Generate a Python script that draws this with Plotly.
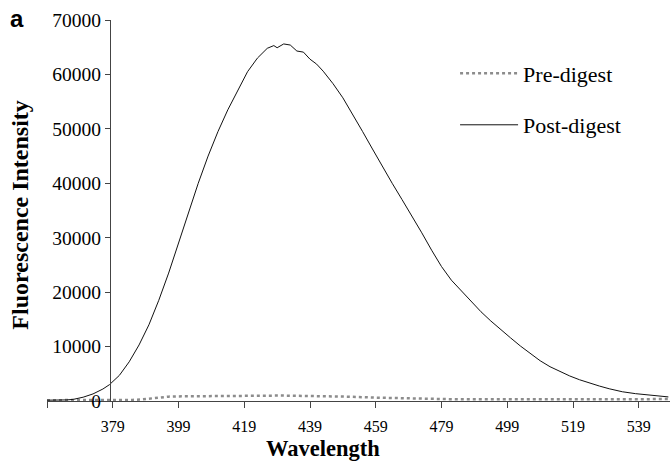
import plotly.graph_objects as go

# Post-digest spectrum
post_wl = [359, 362, 365, 367, 370, 373, 376, 378, 381, 384, 387, 390, 393, 396, 399, 402,
           405, 408, 411, 414, 417, 420, 423, 426, 428, 429, 431, 433, 435, 437, 439, 441,
           443, 446, 449, 452, 455, 458, 461, 464, 467, 470, 473, 476, 479, 482, 485, 488,
           491, 494, 497, 500, 503, 506, 509, 512, 515, 518, 521, 524, 527, 530, 534, 538,
           542, 545, 548]
post_val = [150, 150, 200, 300, 700, 1300, 2200, 3000, 4700, 7200, 10300, 14000, 18500, 23500, 29000, 34500,
            40000, 45000, 49500, 53500, 57000, 60500, 63000, 64800, 65300, 64900, 65600, 65400, 64300, 64100, 62800, 61900,
            60600, 58300, 55700, 52700, 49500, 46300, 43100, 40000, 37000, 34000, 30900, 27700, 24700, 22200, 20200, 18300,
            16400, 14700, 13100, 11600, 10100, 8700, 7400, 6300, 5400, 4600, 3900, 3300, 2750, 2250, 1700, 1350,
            1100, 900, 750]

# Pre-digest spectrum
pre_wl = [359, 365, 372, 380, 385, 388, 392, 396, 400, 410, 420, 430, 440, 450, 460, 470,
          480, 490, 500, 510, 520, 530, 540, 548]
pre_val = [150, 150, 150, 150, 200, 300, 600, 800, 850, 850, 950, 1000, 950, 800, 600, 450,
           350, 300, 300, 300, 350, 350, 350, 350]

tick_vals = [359, 379, 399, 419, 439, 459, 479, 499, 519, 539]
tick_text = ["", "379", "399", "419", "439", "459", "479", "499", "519", "539"]
y_ticks = [0, 10000, 20000, 30000, 40000, 50000, 60000, 70000]

serif = "Liberation Serif, Times New Roman, serif"

fig = go.Figure()
fig.add_trace(go.Scatter(x=pre_wl, y=pre_val, mode="lines", name="Pre-digest",
                         legendgroup="pre",
                         line=dict(color="#8c8c8c", width=2.5, dash="dot")))
fig.add_trace(go.Scatter(x=post_wl, y=post_val, mode="lines", name="Post-digest",
                         legendgroup="post",
                         line=dict(color="#111111", width=1)))

fig.update_layout(
    width=670, height=462,
    margin=dict(l=47, r=0, t=20, b=61),
    paper_bgcolor="white", plot_bgcolor="white",
    font=dict(family=serif, color="black", size=17),
    showlegend=True,
    legend=dict(x=0.655, y=0.915, xanchor="left", yanchor="top",
                font=dict(family=serif, size=22, color="black"),
                bgcolor="rgba(0,0,0,0)", itemwidth=58, tracegroupgap=20),
    xaxis=dict(range=[359, 548.5], tickmode="array", tickvals=tick_vals, ticktext=tick_text,
               ticks="outside", ticklen=6, tickcolor="#444", showline=True, linecolor="#444",
               linewidth=1, showgrid=False, zeroline=False, ticklabelstandoff=5,
               tickfont=dict(family=serif, size=16)),
    yaxis=dict(range=[0, 70000], tickvals=y_ticks, tickformat="d", ticks="outside", ticklen=5,
               tickcolor="#444", showline=True, linecolor="#444", linewidth=1,
               showgrid=False, zeroline=False, anchor="free", position=0.1011,
               tickfont=dict(family=serif, size=19.5)),
    annotations=[
        dict(text="<b>Wavelength</b>", xref="paper", yref="paper", x=0.443, y=-0.124,
             xanchor="center", yanchor="middle", showarrow=False,
             font=dict(family=serif, size=22.5)),
        dict(text="<b>Fluorescence Intensity</b>", xref="paper", yref="paper", x=-0.044, y=0.488,
             xanchor="center", yanchor="middle", textangle=-90, showarrow=False,
             font=dict(family=serif, size=24)),
        dict(text="<b>a</b>", xref="paper", yref="paper", x=-0.048, y=1.003,
             xanchor="center", yanchor="middle", showarrow=False,
             font=dict(family="Liberation Sans, Arial, sans-serif", size=24)),
    ],
)

fig.write_html("out.html")
